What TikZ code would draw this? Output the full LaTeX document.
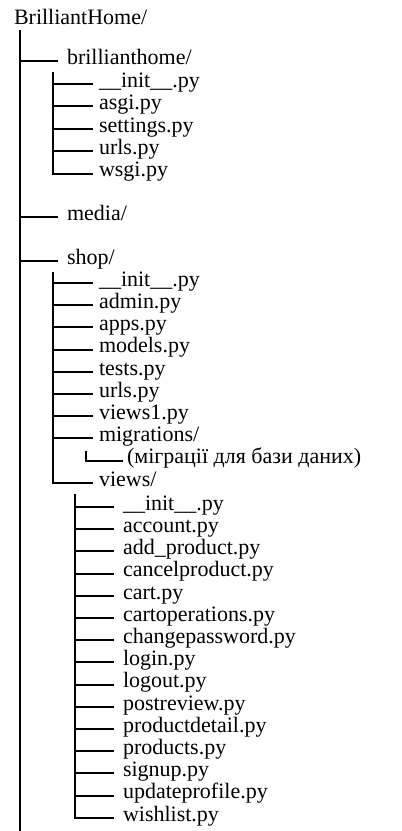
\documentclass[tikz,border=0pt]{standalone}
\usepackage{fontspec}
\setmainfont{Liberation Serif}
\begin{document}
\begin{tikzpicture}[x=1pt,y=-1pt,
  line width=2pt, line cap=rect,
  item/.style={anchor=west, inner xsep=0pt, inner ysep=0pt,
    text height=0.85em, text depth=0.21em,
    font=\fontsize{22}{22}\selectfont},
  root/.style={anchor=base west, inner sep=0pt,
    font=\fontsize{22}{22}\selectfont}]
\useasboundingbox (0,0) rectangle (402,831);

% project root and its trunk
\node[root] (root) at (13,24) {BrilliantHome/};
\coordinate (trunktop) at (20,30);
\coordinate (trunkbot) at (20,831);
\draw[line cap=butt] (trunktop) -- (trunkbot);

% top-level entries
\node[item] (bh)    at (66,61)  {brillianthome/};
\node[item] (media) at (66,217) {media/};
\node[item] (shop)  at (66,261) {shop/};
\foreach \n in {bh,media,shop}
  \draw (trunktop |- \n.west) -- ([xshift=-9]\n.west);

% brillianthome/ package
\coordinate (bhv) at (53,73);
\foreach \txt [count=\i from 0] in {\_\_init\_\_.py,asgi.py,settings.py,urls.py,wsgi.py}{
  \node[item] (bh\i) at (98,84+\i*22.4) {\txt};
  \draw (bhv |- bh\i.west) -- ([xshift=-6]bh\i.west);
}
\draw (bhv) -- (bhv |- bh4.west);

% shop/ application
\coordinate (shv) at (53,273);
\foreach \txt [count=\i from 0] in {\_\_init\_\_.py,admin.py,apps.py,models.py,tests.py,urls.py,views1.py,migrations/}{
  \node[item] (sh\i) at (98,283+\i*22.2) {\txt};
  \draw (shv |- sh\i.west) -- ([xshift=-6]sh\i.west);
}
\node[item] (views) at (98,482.8) {views/};
\draw (shv) -- (shv |- views.west) -- ([xshift=-6]views.west);

% migrations/ contents
\coordinate (migv) at (86,452);
\node[item] (mig) at (126,460.6) {(міграції для бази даних)};
\draw (migv) -- (migv |- mig.west) -- ([xshift=-4]mig.west);

% views/ package
\coordinate (vwv) at (75,495);
\foreach \txt [count=\i from 0] in {\_\_init\_\_.py,account.py,add\_product.py,cancelproduct.py,cart.py,cartoperations.py,changepassword.py,login.py,logout.py,postreview.py,productdetail.py,products.py,signup.py,updateprofile.py,wishlist.py}{
  \node[item] (vw\i) at (122,507+\i*22.2) {\txt};
  \draw (vwv |- vw\i.west) -- ([xshift=-9]vw\i.west);
}
\draw (vwv) -- (vwv |- vw14.west);
\end{tikzpicture}
\end{document}
